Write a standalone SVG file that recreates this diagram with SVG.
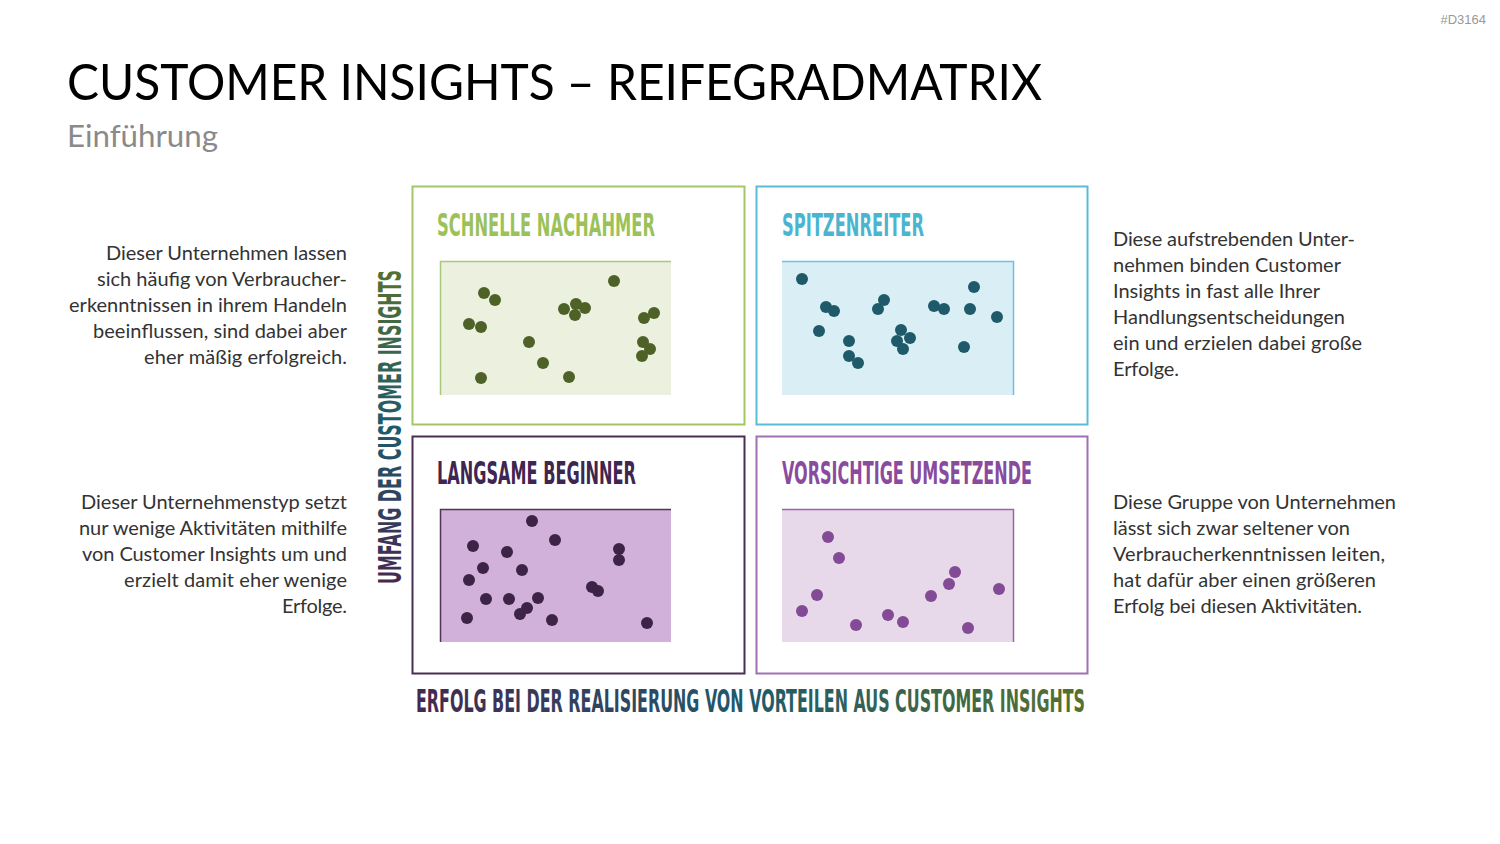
<svg xmlns="http://www.w3.org/2000/svg" width="1500" height="844" viewBox="0 0 1500 844">
<defs>
<style>
.body{font-family:"Lato","Open Sans","Liberation Sans",sans-serif;font-size:20px;fill:#333333;font-weight:400}
.r{text-anchor:end}
.qt{font-family:"Liberation Sans Narrow","DejaVu Sans Condensed","Liberation Sans",sans-serif;font-weight:bold;font-size:22px}
.ax{font-family:"Liberation Sans Narrow","DejaVu Sans Condensed","Liberation Sans",sans-serif;font-weight:bold;font-size:22px}
.g circle{fill:#4e6227}
.b circle{fill:#1e5a6a}
.p circle{fill:#3d2447}
.v circle{fill:#834a96}
</style>
<linearGradient id="gx" x1="0" y1="0" x2="1" y2="0">
<stop offset="0" stop-color="#45284f"/>
<stop offset="0.5" stop-color="#1f5a6b"/>
<stop offset="1" stop-color="#56702e"/>
</linearGradient>
<linearGradient id="gy" x1="0" y1="0" x2="1" y2="0">
<stop offset="0" stop-color="#45284f"/>
<stop offset="0.5" stop-color="#1f5a6b"/>
<stop offset="1" stop-color="#56702e"/>
</linearGradient>
</defs>
<rect width="1500" height="844" fill="#ffffff"/>
<text x="1486" y="24" text-anchor="end" style="font-family:'Liberation Sans',sans-serif;font-size:13px;fill:#999">#D3164</text>
<text x="67" y="100" textLength="975" lengthAdjust="spacingAndGlyphs" style="font-family:'Lato','Open Sans','Liberation Sans',sans-serif;font-size:50px;font-weight:400;fill:#000">CUSTOMER INSIGHTS – REIFEGRADMATRIX</text>
<text x="67" y="147" textLength="151" lengthAdjust="spacingAndGlyphs" style="font-family:'Lato','Open Sans','Liberation Sans',sans-serif;font-size:30px;font-weight:400;fill:#8a8a8a">Einführung</text>

<g id="text-left-top" class="body r">
<text x="347" y="260" textLength="241">Dieser Unternehmen lassen</text>
<text x="347" y="286" textLength="250">sich häufig von Verbraucher-</text>
<text x="347" y="312" textLength="278">erkenntnissen in ihrem Handeln</text>
<text x="347" y="338" textLength="254">beeinflussen, sind dabei aber</text>
<text x="347" y="364" textLength="203">eher mäßig erfolgreich.</text>
</g>
<g id="text-left-bottom" class="body r">
<text x="347" y="509" textLength="266">Dieser Unternehmenstyp setzt</text>
<text x="347" y="535" textLength="268">nur wenige Aktivitäten mithilfe</text>
<text x="347" y="561" textLength="265">von Customer Insights um und</text>
<text x="347" y="587" textLength="223">erzielt damit eher wenige</text>
<text x="347" y="613" textLength="65">Erfolge.</text>
</g>
<g id="text-right-top" class="body">
<text x="1113" y="246" textLength="242">Diese aufstrebenden Unter-</text>
<text x="1113" y="272" textLength="228">nehmen binden Customer</text>
<text x="1113" y="298" textLength="207">Insights in fast alle Ihrer</text>
<text x="1113" y="324" textLength="232">Handlungsentscheidungen</text>
<text x="1113" y="350" textLength="249">ein und erzielen dabei große</text>
<text x="1113" y="376" textLength="66">Erfolge.</text>
</g>
<g id="text-right-bottom" class="body">
<text x="1113" y="509" textLength="283">Diese Gruppe von Unternehmen</text>
<text x="1113" y="535" textLength="237">lässt sich zwar seltener von</text>
<text x="1113" y="561" textLength="272">Verbraucherkenntnissen leiten,</text>
<text x="1113" y="587" textLength="263">hat dafür aber einen größeren</text>
<text x="1113" y="613" textLength="249">Erfolg bei diesen Aktivitäten.</text>
</g>

<g id="q-schnelle-nachahmer">
<rect x="412.5" y="186.5" width="332" height="238" fill="none" stroke="#a3c764" stroke-width="2"/>
<text class="qt" transform="translate(437 236) scale(1 1.4545)" textLength="218" lengthAdjust="spacingAndGlyphs" fill="#9bc25a">SCHNELLE NACHAHMER</text>
<rect x="440" y="261" width="231" height="134" fill="#ebf0df"/>
<path d="M440.5 395 V261.5 H671" fill="none" stroke="#a8c87a" stroke-width="1.5"/>
<g class="g">
<circle cx="484" cy="293" r="6"/><circle cx="495" cy="300" r="6"/><circle cx="469" cy="324" r="6"/><circle cx="481" cy="327" r="6"/>
<circle cx="481" cy="378" r="6"/><circle cx="529" cy="342" r="6"/><circle cx="543" cy="363" r="6"/><circle cx="569" cy="377" r="6"/>
<circle cx="564" cy="309" r="6"/><circle cx="576" cy="304" r="6"/><circle cx="585" cy="308" r="6"/><circle cx="575" cy="315" r="6"/>
<circle cx="614" cy="281" r="6"/><circle cx="644" cy="318" r="6"/><circle cx="654" cy="313" r="6"/><circle cx="643" cy="342" r="6"/>
<circle cx="650" cy="349" r="6"/><circle cx="642" cy="356" r="6"/>
</g>
</g>

<g id="q-spitzenreiter">
<rect x="756.5" y="186.5" width="331" height="238" fill="none" stroke="#5bbcd6" stroke-width="2"/>
<text class="qt" transform="translate(782 236) scale(1 1.4545)" textLength="142" lengthAdjust="spacingAndGlyphs" fill="#4bb5d0">SPITZENREITER</text>
<rect x="782" y="261" width="232" height="134" fill="#daeef5"/>
<path d="M782 261.5 H1013.5 V395" fill="none" stroke="#6cc3da" stroke-width="1.5"/>
<g class="b">
<circle cx="802" cy="279" r="6"/><circle cx="826" cy="307" r="6"/><circle cx="834" cy="311" r="6"/><circle cx="819" cy="331" r="6"/>
<circle cx="849" cy="341" r="6"/><circle cx="849" cy="356" r="6"/><circle cx="858" cy="363" r="6"/><circle cx="884" cy="300" r="6"/>
<circle cx="878" cy="309" r="6"/><circle cx="901" cy="330" r="6"/><circle cx="910" cy="338" r="6"/><circle cx="897" cy="341" r="6"/>
<circle cx="903" cy="349" r="6"/><circle cx="934" cy="306" r="6"/><circle cx="944" cy="309" r="6"/><circle cx="974" cy="287" r="6"/>
<circle cx="970" cy="309" r="6"/><circle cx="997" cy="317" r="6"/><circle cx="964" cy="347" r="6"/>
</g>
</g>

<g id="q-langsame-beginner">
<rect x="412.5" y="436.5" width="332" height="237" fill="none" stroke="#4a2f55" stroke-width="2"/>
<text class="qt" transform="translate(437 484) scale(1 1.4545)" textLength="199" lengthAdjust="spacingAndGlyphs" fill="#3e2650">LANGSAME BEGINNER</text>
<rect x="440" y="509" width="231" height="133" fill="#d1b1d9"/>
<path d="M440.5 642 V509.5 H671" fill="none" stroke="#4e3459" stroke-width="1.5"/>
<g class="p">
<circle cx="532" cy="521" r="6"/><circle cx="555" cy="540" r="6"/><circle cx="473" cy="546" r="6"/><circle cx="507" cy="552" r="6"/>
<circle cx="483" cy="568" r="6"/><circle cx="522" cy="570" r="6"/><circle cx="469" cy="580" r="6"/><circle cx="486" cy="599" r="6"/>
<circle cx="509" cy="599" r="6"/><circle cx="538" cy="598" r="6"/><circle cx="527" cy="608" r="6"/><circle cx="520" cy="614" r="6"/>
<circle cx="467" cy="618" r="6"/><circle cx="552" cy="620" r="6"/><circle cx="619" cy="549" r="6"/><circle cx="619" cy="560" r="6"/>
<circle cx="592" cy="587" r="6"/><circle cx="598" cy="591" r="6"/><circle cx="647" cy="623" r="6"/>
</g>
</g>

<g id="q-vorsichtige-umsetzende">
<rect x="756.5" y="436.5" width="331" height="237" fill="none" stroke="#a070b0" stroke-width="2"/>
<text class="qt" transform="translate(782 484) scale(1 1.4545)" textLength="250" lengthAdjust="spacingAndGlyphs" fill="#8a4b9e">VORSICHTIGE UMSETZENDE</text>
<rect x="782" y="509" width="232" height="133" fill="#e7d8ea"/>
<path d="M782 509.5 H1013.5 V642" fill="none" stroke="#9a66ab" stroke-width="1.5"/>
<g class="v">
<circle cx="828" cy="537" r="6"/><circle cx="839" cy="558" r="6"/><circle cx="817" cy="595" r="6"/><circle cx="802" cy="611" r="6"/>
<circle cx="856" cy="625" r="6"/><circle cx="888" cy="615" r="6"/><circle cx="903" cy="622" r="6"/><circle cx="931" cy="596" r="6"/>
<circle cx="949" cy="584" r="6"/><circle cx="955" cy="572" r="6"/><circle cx="999" cy="589" r="6"/><circle cx="968" cy="628" r="6"/>
</g>
</g>

<g id="axis-y">
<text class="ax" transform="translate(401 584) rotate(-90) scale(1 1.4545)" textLength="314" lengthAdjust="spacingAndGlyphs" fill="url(#gy)">UMFANG DER CUSTOMER INSIGHTS</text>
</g>
<g id="axis-x">
<text class="ax" transform="translate(416 712) scale(1 1.4545)" textLength="669" lengthAdjust="spacingAndGlyphs" fill="url(#gx)">ERFOLG BEI DER REALISIERUNG VON VORTEILEN AUS CUSTOMER INSIGHTS</text>
</g>
<g id="connectors"/>
</svg>
